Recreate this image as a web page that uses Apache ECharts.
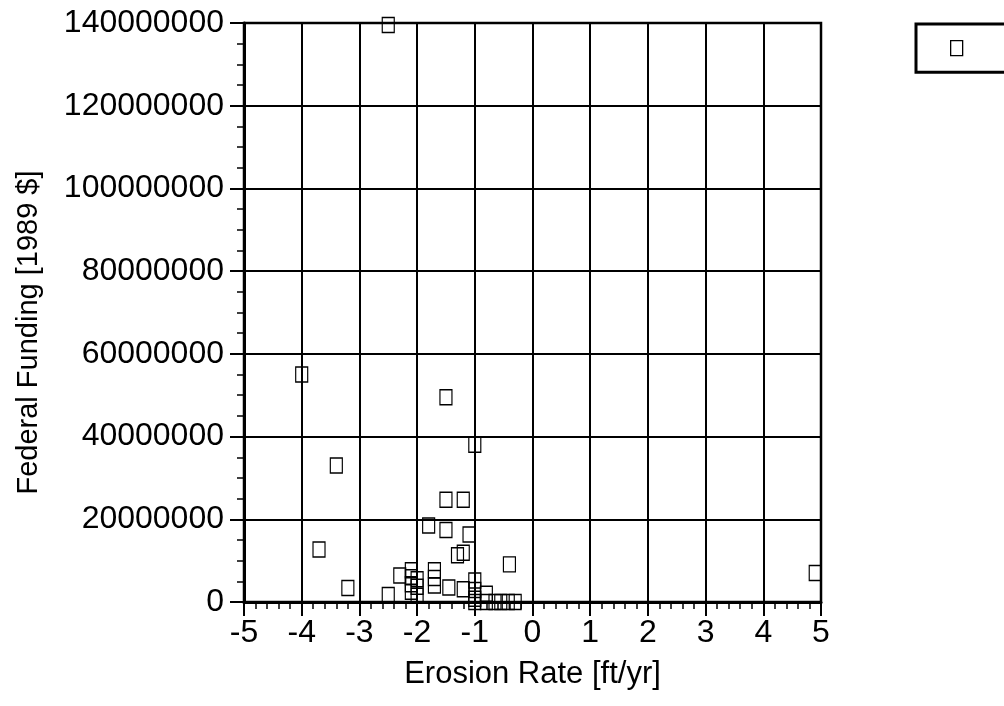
<!DOCTYPE html>
<html>
<head>
<meta charset="utf-8">
<script src="https://cdn.jsdelivr.net/npm/echarts@6/dist/echarts.min.js"></script>
<style>
html, body { margin: 0; padding: 0; background: #fff; }
#chart { width: 1004px; height: 706px; }
</style>
</head>
<body>
<div id="chart"></div>
<script>
// erosion rate [ft/yr] and federal funding [1989 $] for each site
var erosionRate = [
	-2.5, -4.0, -1.5, -1.0, -3.4, -1.5, -1.2, -3.7, -3.2, -1.8,
	-1.5, -1.1, -1.3, -1.2, -0.4, -2.3, -2.1, -2.1, -2.0, -2.1,
	-2.0, -2.1, -2.0, -2.5, -1.7, -1.7, -1.7, -1.45, -1.2, -1.0,
	-1.0, -1.0, -0.8, -1.0, -0.8, -0.65, -0.55, -0.42, -0.3, 4.9
];
var federalFunding = [
	139500000, 55000000, 49500000, 38000000, 33000000, 24700000, 24700000, 12700000, 3400000, 18500000,
	17400000, 16300000, 11300000, 11900000, 9100000, 6400000, 7700000, 6000000, 5500000, 4300000,
	3700000, 2500000, 1500000, 1700000, 7700000, 5800000, 4000000, 3500000, 3100000, 5200000,
	2900000, 800000, 2000000, 0, 0, 0, 0, 0, 0, 7000000
];
var xTicks = [-5, 5, 1];
var yTicks = [0, 140000000, 20000000];
var seriesName = ' ';

var font = 'Liberation Sans, Arial, sans-serif';
var chart = echarts.init(document.getElementById('chart'));

var points = [];
for (var i = 0; i < erosionRate.length; i++) {
	points.push([erosionRate[i], federalFunding[i]]);
}

var option = {
	backgroundColor: '#fff',
	animation: false,
	grid: {
		left: 244,
		right: 183,
		top: 23,
		bottom: 104,
		show: true,
		borderColor: '#000',
		borderWidth: 2.5
	},
	legend: {
		left: 916,
		top: 24,
		width: 60,
		padding: [16, 44, 16, 34],
		borderColor: '#000',
		borderWidth: 3,
		itemWidth: 12,
		itemHeight: 15,
		itemGap: 0,
		icon: 'rect',
		itemStyle: { color: 'transparent', borderColor: '#000', borderWidth: 1.3 },
		textStyle: { fontSize: 12, fontFamily: font },
		data: [seriesName]
	},
	xAxis: {
		type: 'value',
		min: xTicks[0],
		max: xTicks[1],
		interval: xTicks[2],
		name: 'Erosion Rate [ft/yr]',
		nameLocation: 'middle',
		nameGap: 57,
		nameTextStyle: { color: '#000', fontSize: 31, fontFamily: font },
		axisLine: { show: true, onZero: false, lineStyle: { color: '#000', width: 3 } },
		axisTick: { show: true, inside: false, length: 14, lineStyle: { color: '#000', width: 2 } },
		minorTick: { show: true, splitNumber: 5, length: 7, lineStyle: { color: '#000', width: 1.5 } },
		axisLabel: { color: '#000', fontSize: 32, fontFamily: font, margin: 15 },
		splitLine: { show: true, lineStyle: { color: '#000', width: 2 } }
	},
	yAxis: {
		type: 'value',
		min: yTicks[0],
		max: yTicks[1],
		interval: yTicks[2],
		name: 'Federal Funding [1989 $]',
		nameLocation: 'middle',
		nameGap: 201,
		nameTextStyle: { color: '#000', fontSize: 29, fontFamily: font, padding: [0, 40, 0, 0] },
		axisLine: { show: true, onZero: false, lineStyle: { color: '#000', width: 3 } },
		axisTick: { show: true, inside: false, length: 14, lineStyle: { color: '#000', width: 2 } },
		minorTick: { show: true, splitNumber: 4, length: 7, lineStyle: { color: '#000', width: 1.5 } },
		axisLabel: {
			color: '#000', fontSize: 32, fontFamily: font, margin: 20,
			formatter: function (v) { return String(v); }
		},
		splitLine: { show: true, lineStyle: { color: '#000', width: 2 } }
	},
	series: [{
		name: seriesName,
		type: 'scatter',
		symbol: 'rect',
		symbolSize: [12, 15],
		clip: false,
		itemStyle: { color: 'transparent', borderColor: '#000', borderWidth: 1.3, opacity: 1 },
		data: points
	}]
};
chart.setOption(option);
</script>
</body>
</html>
